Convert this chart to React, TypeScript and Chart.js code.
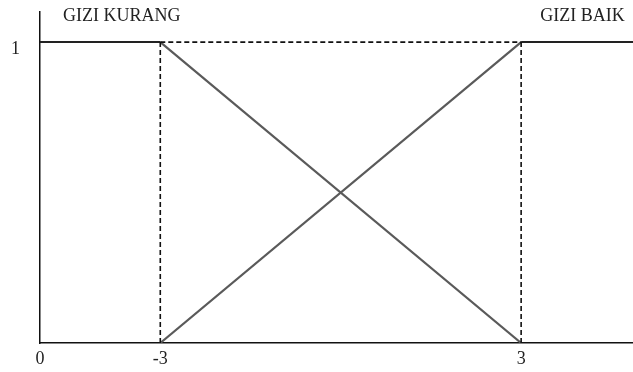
import React, { useEffect, useRef } from "react";
import { Chart, registerables } from "chart.js";

Chart.register(...registerables);

// Positions on the x axis (internal units) and the labels shown there
const xTickPositions = [0, 1, 4];
const xTickLabels = ["0", "-3", "3"];
const xMax = 4.93;

const yTickPositions = [1];
const yTickLabels = ["1"];
const yMax = 1.1;

// Membership lines (x position, membership)
const kurangFlat = [{ x: 0, y: 1 }, { x: 1, y: 1 }];
const kurangSlope = [{ x: 1, y: 1 }, { x: 4, y: 0 }];
const baikSlope = [{ x: 1, y: 0 }, { x: 4, y: 1 }];
const baikFlat = [{ x: 4, y: 1 }, { x: xMax, y: 1 }];
const topDashed = [{ x: 1, y: 1 }, { x: 4, y: 1 }];
const leftDashed = [{ x: 1, y: 0 }, { x: 1, y: 1 }];
const rightDashed = [{ x: 4, y: 0 }, { x: 4, y: 1 }];

// Set labels
const setLabels = ["GIZI KURANG", "GIZI BAIK"];
const setLabelX = [0.68, 4.51];
const setLabelY = [1.085, 1.085];

const FONT = "'Liberation Serif', 'Times New Roman', serif";

const labelPlugin = {
  id: "setLabels",
  afterDatasetsDraw(chart: any) {
    const { ctx, scales } = chart;
    ctx.save();
    ctx.font = `18px ${FONT}`;
    ctx.fillStyle = "#222";
    ctx.textAlign = "center";
    ctx.textBaseline = "middle";
    setLabels.forEach((t, i) => {
      ctx.fillText(t, scales.x.getPixelForValue(setLabelX[i]), scales.y.getPixelForValue(setLabelY[i]));
    });
    ctx.restore();
  },
};

const noPad = (s: any) => {
  s.paddingTop = 0;
  s.paddingBottom = 0;
  s.paddingLeft = 0;
  s.paddingRight = 0;
};

export default function App() {
  const ref = useRef<HTMLCanvasElement | null>(null);
  useEffect(() => {
    if (!ref.current) return;
    const solid = (data: any[], color: string, width: number) => ({
      data,
      borderColor: color,
      borderWidth: width,
      pointRadius: 0,
      showLine: true,
      fill: false,
      tension: 0,
    });
    const dashed = (data: any[]) => ({
      ...solid(data, "#111", 1.6),
      borderDash: [5, 3],
    });
    const chart = new Chart(ref.current, {
      type: "scatter",
      data: {
        datasets: [
          dashed(topDashed),
          dashed(leftDashed),
          dashed(rightDashed),
          solid(kurangSlope, "#5a5a5a", 2.2),
          solid(baikSlope, "#5a5a5a", 2.2),
          solid(kurangFlat, "#222", 2),
          solid(baikFlat, "#222", 2),
        ] as any,
      },
      options: {
        animation: false,
        responsive: false,
        layout: { padding: { top: 12, right: 0, left: 0, bottom: 0 } },
        plugins: {
          legend: { display: false },
          tooltip: { enabled: false },
        },
        scales: {
          x: {
            type: "linear",
            min: 0,
            max: xMax,
            grid: { display: false, drawTicks: false },
            border: { display: true, color: "#111", width: 1.5 },
            afterFit: (s: any) => {
              s.height = 29;
              noPad(s);
            },
            afterBuildTicks: (s: any) => {
              s.ticks = xTickPositions.map((v) => ({ value: v }));
            },
            ticks: {
              autoSkip: false,
              maxRotation: 0,
              padding: 5,
              color: "#222",
              font: { family: FONT, size: 18 },
              callback: (v: any) => {
                const i = xTickPositions.indexOf(Number(v));
                return i >= 0 ? xTickLabels[i] : "";
              },
            },
          },
          y: {
            type: "linear",
            min: 0,
            max: yMax,
            grid: { display: false, drawTicks: false },
            border: { display: true, color: "#111", width: 1.5 },
            afterFit: (s: any) => {
              s.width = 40;
              noPad(s);
            },
            afterBuildTicks: (s: any) => {
              s.ticks = yTickPositions.map((v) => ({ value: v }));
            },
            ticks: {
              autoSkip: false,
              padding: 20,
              labelOffset: 7,
              color: "#222",
              font: { family: FONT, size: 18 },
              callback: (v: any) => {
                const i = yTickPositions.indexOf(Number(v));
                return i >= 0 ? yTickLabels[i] : "";
              },
            },
          },
        },
      },
      plugins: [labelPlugin],
    });
    return () => chart.destroy();
  }, []);
  return (
    <div style={{ position: "fixed", left: 0, top: 0, width: 633, height: 372, background: "#fff" }}>
      <canvas ref={ref} width={633} height={372} style={{ width: 633, height: 372 }} />
    </div>
  );
}
